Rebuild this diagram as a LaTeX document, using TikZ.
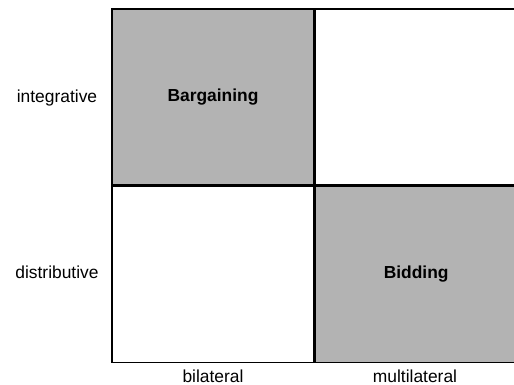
\documentclass[tikz,border=0pt]{standalone}
\usepackage{fontspec}
\setmainfont{Liberation Sans}
\usetikzlibrary{positioning}
\tikzset{
cellstyle/.style={
  rectangle,
  line width=1.2pt,
  inner sep=0pt,
  minimum width=202pt,
  minimum height=176pt,
  draw=black,
  font=\fontsize{17.4}{20}\selectfont\bfseries,
  }
}
\tikzset{
axislabel/.style={
  inner sep=0pt,
  font=\fontsize{17.4}{20}\selectfont,
  }
}

\begin{document}
\begin{tikzpicture}[x=1pt,y=-1pt]
    \useasboundingbox (0,0) rectangle (514,385);
    \node[cellstyle, fill={rgb,255:red,179;green,179;blue,179}] (barg) at (213,97) {Bargaining};
    \node[cellstyle, fill=white, right=0pt of barg.east, anchor=west] (topright) {};
    \node[cellstyle, fill=white, below=0pt of barg.south, anchor=north] (botleft) {};
    \node[cellstyle, fill={rgb,255:red,179;green,179;blue,179}, right=0pt of botleft.east, anchor=west] (bid) {Bidding};
    % row and column headings
    \node[axislabel] (integ) at (57,98) {integrative};
    \node[axislabel] (distr) at (57,272) {distributive};
    \node[axislabel, anchor=base] (bilat) at (213,382) {bilateral};
    \node[axislabel, anchor=base] (multi) at (415,382) {multilateral};
\end{tikzpicture}
\end{document}
